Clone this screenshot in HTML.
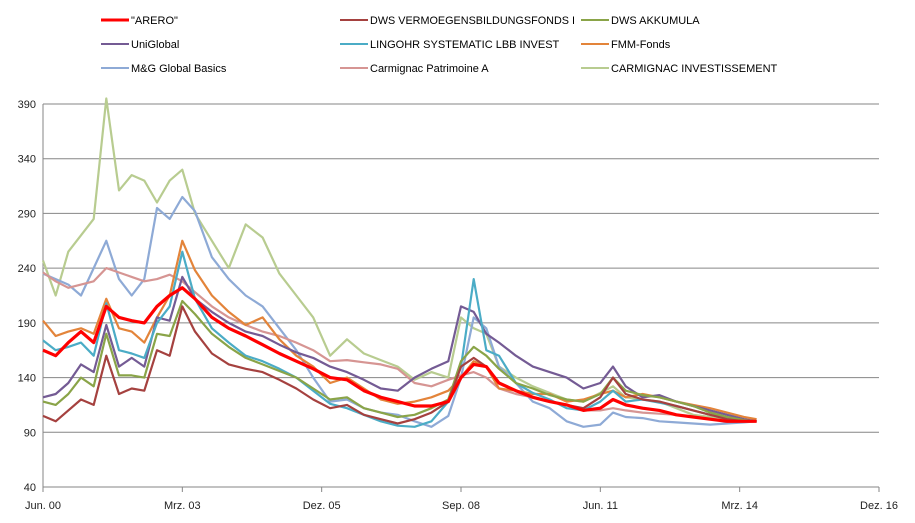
<!DOCTYPE html>
<html><head><meta charset="utf-8">
<style>
html,body{margin:0;padding:0;background:#fff;}
svg{display:block;font-family:"Liberation Sans",sans-serif;}
</style></head>
<body>
<svg id="chart" width="915" height="523" viewBox="0 0 915 523"></svg>
<script>
const months = [0,3,6,9,12,15,18,21,24,27,30,33,36,40,44,48,52,56,60,64,68,72,76,80,84,88,92,96,99,102,105,108,112,116,120,124,128,132,135,138,142,146,150,154,158,162,166,169];
const seriesNames = ['"ARERO"','DWS VERMOEGENSBILDUNGSFONDS  I','DWS AKKUMULA','UniGlobal','LINGOHR SYSTEMATIC  LBB INVEST','FMM-Fonds','M&G Global Basics','Carmignac Patrimoine A','CARMIGNAC INVESTISSEMENT'];
const arero = [165,160,172,182,172,205,195,192,190,205,215,222,212,195,185,178,170,162,155,148,140,138,128,122,118,114,114,118,140,152,150,135,128,122,118,115,110,112,120,115,112,110,106,104,102,100,100,100];
const dwsVerm = [105,100,110,120,115,160,125,130,128,165,160,205,182,162,152,148,145,138,130,120,112,115,106,102,98,102,108,118,150,158,150,135,128,122,118,115,112,122,140,125,120,118,114,110,106,102,100,100];
const dwsAkk = [118,115,125,140,132,180,142,142,140,180,178,210,198,180,168,158,152,146,140,130,120,122,112,108,104,106,112,120,155,168,160,148,135,130,124,120,118,125,140,128,124,122,118,114,108,104,101,100];
const uniGlobal = [122,125,135,152,145,188,150,158,150,195,192,232,212,200,190,182,178,170,163,158,150,145,138,130,128,140,148,155,205,200,180,172,160,150,145,140,130,135,150,132,122,124,118,114,110,106,102,100];
const lingohr = [174,165,168,172,160,208,165,162,158,190,205,255,212,185,172,160,155,148,140,128,116,112,106,100,96,95,100,118,150,230,165,160,135,126,120,112,110,118,128,118,120,117,114,110,106,103,101,100];
const fmm = [192,178,182,185,180,212,185,182,172,195,215,265,238,215,200,188,195,175,160,150,135,140,130,120,116,118,122,128,140,155,150,130,128,125,125,118,120,125,128,122,125,122,118,115,112,108,104,102];
const mg = [235,230,225,215,240,265,230,215,230,295,285,305,292,250,230,215,205,185,165,140,118,120,112,108,106,100,95,105,140,195,185,150,135,118,112,100,95,97,108,104,103,100,99,98,97,98,99,100];
const patrimoine = [236,228,222,225,228,240,236,232,228,230,234,228,218,205,195,188,182,178,172,165,155,156,154,152,148,135,132,138,142,145,140,130,125,122,118,115,110,110,112,110,108,107,106,104,102,101,100,100];
const investissement = [247,215,255,270,285,395,311,325,320,300,320,330,290,265,240,280,268,235,215,195,160,175,162,156,150,138,145,140,195,185,180,150,140,132,126,120,118,126,132,122,120,118,112,106,104,100,100,100];
const yTicks = [40,90,140,190,240,290,340,390];
const xTickLabels = ['Jun. 00','Mrz. 03','Dez. 05','Sep. 08','Jun. 11','Mrz. 14','Dez. 16'];
const xTickMonths = [0,33,66,99,132,165,198];

const svg = document.getElementById('chart');
const NS = 'http://www.w3.org/2000/svg';
const X0=43, X1=879, Y0=487, Y1=104;
function xScale(m){return X0 + m*(X1-X0)/198;}
function yScale(v){return Y0 - (v-40)*(Y0-Y1)/350;}
function mk(tag, attrs){const e=document.createElementNS(NS,tag);for(const k in attrs)e.setAttribute(k,attrs[k]);svg.appendChild(e);return e;}

yTicks.forEach((t,i)=>{
  const g = mk('line',{x1:X0,x2:X1,y1:yScale(t),y2:yScale(t),stroke:'#868686','stroke-width':1});
  
  
  const tx = mk('text',{x:36,y:yScale(t)+4,'text-anchor':'end','font-size':11,fill:'#222'});
  tx.textContent = t;
  
  
});
const ax = mk('line',{x1:X0,x2:X0,y1:Y1,y2:Y0,stroke:'#868686','stroke-width':1});


xTickMonths.forEach((m,i)=>{
  const tk = mk('line',{x1:xScale(m),x2:xScale(m),y1:Y0,y2:Y0+5,stroke:'#868686'});
  
  
  const tx = mk('text',{x:xScale(m),y:509,'text-anchor':'middle','font-size':11,fill:'#222'});
  tx.textContent = xTickLabels[i];
  
  
});

const allSeries = [investissement, mg, patrimoine, fmm, uniGlobal, lingohr, dwsAkk, dwsVerm, arero];
const drawNames = ['carmignac-investissement','mg-global-basics','carmignac-patrimoine','fmm-fonds','uniglobal','lingohr','dws-akkumula','dws-vermoegens','arero'];
const colors = ['#b8cc90','#8eaad6','#d69593','#e3843a','#745b94','#4bacc6','#8aa448','#a5413f','#ff0000'];
const widths = [2.2,2.2,2.2,2.2,2.2,2.2,2.2,2.2,3.2];
allSeries.forEach((vals,i)=>{
  const pts = vals.map((v,j)=>xScale(months[j]).toFixed(1)+','+yScale(v).toFixed(1)).join(' ');
  const p = mk('polyline',{points:pts,fill:'none',stroke:colors[i],'stroke-width':widths[i],'stroke-linejoin':'round'});
  
  
});

const legendColors = ['#ff0000','#a5413f','#8aa448','#745b94','#4bacc6','#e3843a','#8eaad6','#d69593','#b8cc90'];
const legendX = [101,340,581];
const legendY = [20,44,68];
seriesNames.forEach((n,i)=>{
  const lx = legendX[i%3], ly = legendY[Math.floor(i/3)];
  const l = mk('line',{x1:lx,x2:lx+28,y1:ly,y2:ly,stroke:legendColors[i],'stroke-width':i===0?3:2});
  
  
  const t = mk('text',{x:lx+30,y:ly+4,'font-size':11,fill:'#000'});
  if(i===1){t.setAttribute('textLength','205');t.setAttribute('lengthAdjust','spacingAndGlyphs');}
  t.textContent = n;
  
  
});
</script>
</body></html>
